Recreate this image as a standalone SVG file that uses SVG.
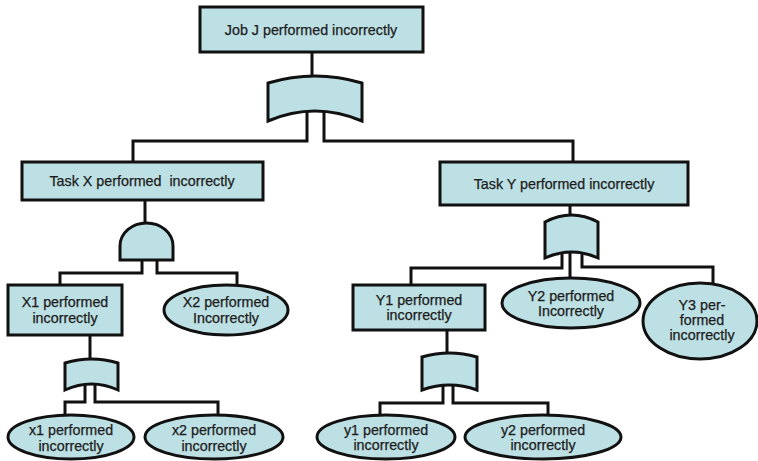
<svg xmlns="http://www.w3.org/2000/svg" width="758" height="461" viewBox="0 0 758 461">
<style>
.n{fill:#bde0e4;stroke:#111;stroke-width:3}
.c{fill:none;stroke:#111;stroke-width:3}
text{font-family:"Liberation Sans",Arial,sans-serif;font-size:14.3px;fill:#1c1c1c;text-anchor:middle;stroke:#1c1c1c;stroke-width:0.25}
</style>
<rect width="758" height="461" fill="#fff"/>
<g id="connectors">
<path class="c" d="M312,52 V78"/>
<path class="c" d="M307,110 V141 H133 V162"/>
<path class="c" d="M324,110 V141 H573 V162"/>
<path class="c" d="M145,200 V225"/>
<path class="c" d="M142,258 V273 H60 V285"/>
<path class="c" d="M157,258 V273 H237 V285"/>
<path class="c" d="M570,205 V217"/>
<path class="c" d="M562,250 V268 H411 V285"/>
<path class="c" d="M570,250 V279"/>
<path class="c" d="M582,250 V267 H713 V283"/>
<path class="c" d="M90,335 V361"/>
<path class="c" d="M85,382 V402 H65 V416"/>
<path class="c" d="M95,382 V402 H218 V416"/>
<path class="c" d="M447,330 V355"/>
<path class="c" d="M443,383 V403 H380 V416"/>
<path class="c" d="M453,383 V403 H548 V416"/>
</g>
<g id="job-j">
<rect class="n" x="200" y="7" width="223" height="45"/>
<text x="311" y="35">Job J performed incorrectly</text>
</g>
<g id="gate-top">
<path class="n" d="M268,83 Q315,69 362,83 L362,121 Q315,101 268,121 Z"/>
</g>
<g id="task-x">
<rect class="n" x="22" y="162" width="241" height="38"/>
<text x="142" y="186" xml:space="preserve">Task X performed  incorrectly</text>
</g>
<g id="gate-x">
<path class="n" d="M120,260 L120,246 A26.5,23 0 0 1 173,246 L173,260 Z"/>
</g>
<g id="task-y">
<rect class="n" x="440" y="162" width="248" height="43"/>
<text x="564" y="189">Task Y performed incorrectly</text>
</g>
<g id="gate-y">
<path class="n" d="M545,222 Q571.5,208 598,222 L598,258 Q571.5,246 545,258 Z"/>
</g>
<g id="x1">
<rect class="n" x="8" y="285" width="114" height="50"/>
<text x="65" y="307">X1 performed</text>
<text x="65" y="323">incorrectly</text>
</g>
<g id="x2">
<ellipse class="n" cx="226" cy="310" rx="62" ry="25"/>
<text x="226" y="307">X2 performed</text>
<text x="226" y="323">Incorrectly</text>
</g>
<g id="y1">
<rect class="n" x="353" y="285" width="132" height="45"/>
<text x="419" y="305">Y1 performed</text>
<text x="419" y="320">incorrectly</text>
</g>
<g id="y2">
<ellipse class="n" cx="571" cy="303" rx="69" ry="25"/>
<text x="571" y="301">Y2 performed</text>
<text x="571" y="316">Incorrectly</text>
</g>
<g id="y3">
<ellipse class="n" cx="700" cy="321" rx="57" ry="38"/>
<text x="702" y="310">Y3 per-</text>
<text x="702" y="325">formed</text>
<text x="702" y="340">incorrectly</text>
</g>
<g id="gate-x1">
<path class="n" d="M65,363 Q91.5,355 118,363 L118,390 Q91.5,378 65,390 Z"/>
</g>
<g id="gate-y1">
<path class="n" d="M422,357 Q449.5,349 477,357 L477,390 Q449.5,380 422,390 Z"/>
</g>
<g id="x1-low">
<ellipse class="n" cx="71" cy="437" rx="63" ry="22"/>
<text x="71" y="435">x1 performed</text>
<text x="71" y="451">incorrectly</text>
</g>
<g id="x2-low">
<ellipse class="n" cx="214" cy="437" rx="69" ry="22"/>
<text x="214" y="435">x2 performed</text>
<text x="214" y="451">incorrectly</text>
</g>
<g id="y1-low">
<ellipse class="n" cx="386" cy="437" rx="69" ry="22"/>
<text x="386" y="435">y1 performed</text>
<text x="386" y="450">incorrectly</text>
</g>
<g id="y2-low">
<ellipse class="n" cx="543" cy="437" rx="78" ry="22"/>
<text x="543" y="435">y2 performed</text>
<text x="543" y="450">incorrectly</text>
</g>
</svg>
